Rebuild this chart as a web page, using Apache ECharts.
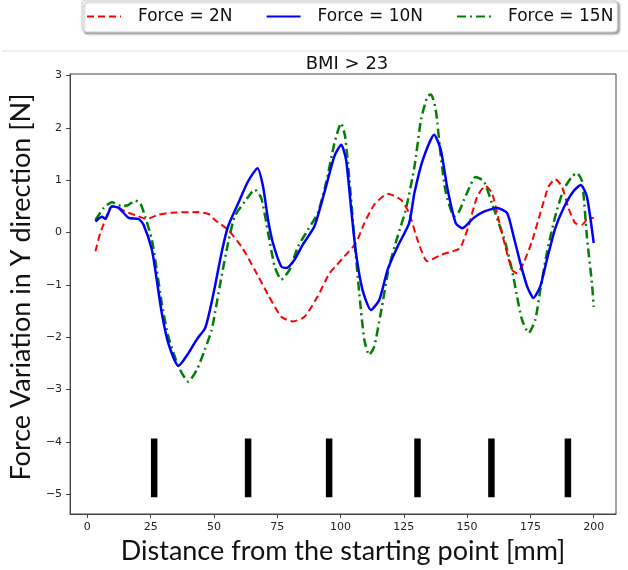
<!DOCTYPE html>
<html>
<head>
<meta charset="utf-8">
<script src="https://cdn.jsdelivr.net/npm/echarts@6/dist/echarts.min.js"></script>
<style>
  html, body { margin: 0; padding: 0; background: #fff; }
  #chart { width: 628px; height: 570px; }
</style>
</head>
<body>
<div id="chart"></div>
<script>
// readings from the picture: [distance mm, force N]
const force2N = [
  [3.2, -0.36], [5.1, -0.01], [7.1, 0.24], [9.0, 0.47], [11.0, 0.50], [15.0, 0.40],
  [20.2, 0.31], [23.5, 0.26], [28.1, 0.34], [33.3, 0.38], [43.8, 0.39], [48.0, 0.35],
  [50.4, 0.24], [55.6, 0.05], [60.9, -0.27], [66.1, -0.71], [71.4, -1.19], [76.6, -1.61],
  [81.2, -1.70], [85.8, -1.61], [91.0, -1.22], [95.6, -0.78], [98.5, -0.62], [101.5, -0.46],
  [106.1, -0.20], [109.4, 0.18], [113.3, 0.53], [118.6, 0.74], [123.8, 0.63], [127.1, 0.37],
  [130.4, -0.14], [134.3, -0.55], [139.6, -0.43], [144.1, -0.36], [147.2, -0.30], [150.4, 0.10],
  [154.0, 0.69], [157.2, 0.89], [159.8, 0.76], [162.5, 0.24], [165.1, -0.27], [167.7, -0.71],
  [169.7, -0.78], [172.3, -0.58], [175.6, -0.17], [178.9, 0.37], [182.2, 0.88], [184.8, 1.02],
  [187.4, 0.88], [190.0, 0.47], [192.7, 0.18], [195.4, 0.15], [198.0, 0.28], [200.0, 0.28]
];

const force10N = [
  [3.2, 0.21], [5.8, 0.30], [7.1, 0.26], [9.7, 0.50], [12.4, 0.47], [16.3, 0.28],
  [20.2, 0.26], [22.2, 0.15], [25.5, -0.33], [27.4, -0.90], [29.4, -1.54], [32.0, -2.12],
  [36.0, -2.55], [39.9, -2.31], [42.5, -2.10], [44.5, -1.96], [46.4, -1.84], [47.8, -1.61],
  [50.4, -1.03], [53.0, -0.39], [55.6, 0.12], [59.6, 0.56], [63.5, 0.98], [67.2, 1.23],
  [69.4, 0.88], [71.4, 0.24], [73.3, -0.20], [76.6, -0.65], [78.6, -0.68], [81.8, -0.52],
  [85.1, -0.23], [89.7, 0.12], [93.6, 0.76], [97.6, 1.46], [100.3, 1.68], [102.2, 1.39],
  [104.1, 0.50], [106.1, -0.39], [108.7, -1.10], [112.0, -1.48], [115.3, -1.29], [118.6, -0.71],
  [122.5, -0.27], [127.1, 0.18], [129.2, 0.76], [132.5, 1.39], [137.0, 1.87], [139.6, 1.58],
  [142.3, 0.82], [145.5, 0.18], [148.1, 0.08], [152.6, 0.28], [156.6, 0.40], [161.9, 0.47],
  [165.8, 0.37], [168.4, -0.08], [171.0, -0.58], [173.7, -1.03], [176.2, -1.25], [178.9, -1.03],
  [181.5, -0.52], [184.8, 0.08], [188.1, 0.47], [192.0, 0.79], [194.9, 0.91], [197.3, 0.69],
  [200.0, -0.20]
];

const force15N = [
  [3.2, 0.24], [6.5, 0.47], [9.7, 0.58], [13.7, 0.50], [16.3, 0.53], [18.9, 0.61],
  [20.9, 0.56], [22.8, 0.31], [25.5, -0.14], [27.4, -0.71], [29.4, -1.35], [32.0, -1.99],
  [36.0, -2.56], [39.9, -2.85], [43.2, -2.63], [46.4, -2.24], [49.1, -1.86], [50.4, -1.54],
  [53.0, -0.84], [55.6, -0.20], [58.2, 0.31], [62.2, 0.59], [66.1, 0.82], [68.7, 0.66],
  [71.4, -0.01], [74.0, -0.65], [76.6, -0.90], [79.9, -0.71], [83.2, -0.27], [87.1, 0.05],
  [91.0, 0.37], [94.3, 0.95], [97.6, 1.71], [100.2, 2.09], [101.8, 1.84], [103.5, 1.01],
  [105.4, -0.08], [107.4, -1.16], [109.4, -2.05], [111.3, -2.34], [113.3, -2.18], [115.9, -1.54],
  [119.2, -0.65], [122.5, -0.08], [125.8, 0.44], [129.2, 1.26], [131.8, 2.16], [134.3, 2.60],
  [135.7, 2.64], [137.6, 2.35], [139.6, 1.46], [141.6, 0.76], [144.9, 0.31], [146.8, 0.40],
  [148.8, 0.63], [150.0, 0.76], [153.3, 1.06], [156.6, 0.98], [159.8, 0.56], [162.5, 0.18],
  [165.1, -0.20], [167.7, -0.71], [169.7, -1.22], [171.7, -1.67], [174.3, -1.92], [176.9, -1.67],
  [178.9, -1.10], [181.5, -0.39], [184.8, 0.31], [188.1, 0.82], [191.3, 1.06], [193.3, 1.14],
  [195.4, 0.98], [197.3, -0.08], [199.3, -0.97], [200.0, -1.42]
];

// black vertical markers
const markerX = [26.4, 63.5, 95.5, 130.4, 159.6, 189.8];
const markerTop = -4;
const markerBottom = -5;

const xTicks = [0, 25, 50, 75, 100, 125, 150, 175, 200];
const yTicks = [-5, -4, -3, -2, -1, 0, 1, 2, 3];

const tickFont = { fontFamily: 'DejaVu Sans', fontSize: 11, color: '#222' };
const nameFont = { fontFamily: 'Lato', fontSize: 27, color: '#111' };

const chart = echarts.init(document.getElementById('chart'), null, { renderer: 'canvas' });

const markerSeries = markerX.map(x => ({
  type: 'line',
  name: 'marker',
  data: [[x, markerTop], [x, markerBottom]],
  symbol: 'none',
  silent: true,
  lineStyle: { color: '#000', width: 6.5, cap: 'square' },
  z: 1
}));

chart.setOption({
  animation: false,
  title: {
    text: 'BMI > 23',
    left: 342,
    textAlign: 'center',
    top: 50,
    textStyle: { fontFamily: 'DejaVu Sans', fontSize: 18, fontWeight: 'normal', color: '#111' }
  },
  legend: {
    data: ['Force = 2N', 'Force = 10N', 'Force = 15N'],
    left: 82,
    top: 0,
    padding: [8, 4, 7, 4],
    itemWidth: 34,
    itemHeight: 14,
    itemGap: 33,
    borderColor: '#ccc',
    borderWidth: 1,
    borderRadius: 4,
    backgroundColor: '#fff',
    shadowColor: 'rgba(0,0,0,0.35)',
    shadowBlur: 2,
    shadowOffsetX: 2,
    shadowOffsetY: 2,
    itemStyle: { color: 'transparent', borderWidth: 0 },
    textStyle: { fontFamily: 'DejaVu Sans', fontSize: 17, color: '#111', padding: [0, 0, 0, 12] }
  },
  graphic: [{
    type: 'line',
    shape: { x1: 2, y1: 51, x2: 628, y2: 51 },
    style: { stroke: '#ddd', lineWidth: 1 }
  }],
  grid: {
    left: 68, right: 12, top: 74, bottom: 56,
    show: true, borderColor: '#444', borderWidth: 1
  },
  xAxis: {
    type: 'value',
    min: -6.8,
    max: 208.8,
    name: 'Distance from the starting point [mm]',
    nameLocation: 'middle',
    nameGap: 21,
    nameTextStyle: nameFont,
    splitLine: { show: false },
    axisLine: { onZero: false, lineStyle: { color: '#444' } },
    axisTick: { length: 4, lineStyle: { color: '#444' }, customValues: xTicks },
    axisLabel: Object.assign({ customValues: xTicks, margin: 8 }, tickFont)
  },
  yAxis: {
    type: 'value',
    min: -5.38,
    max: 3.03,
    name: 'Force Variation in Y direction [N]',
    nameLocation: 'middle',
    nameGap: 22,
    nameTextStyle: Object.assign({ padding: [0, 0, 0, 14] }, nameFont),
    splitLine: { show: false },
    axisLine: { show: true, onZero: false, lineStyle: { color: '#444' } },
    axisTick: { show: true, length: 4, lineStyle: { color: '#444' }, customValues: yTicks },
    axisLabel: Object.assign({
      customValues: yTicks,
      margin: 8,
      formatter: v => String(v).replace('-', '\u2212')
    }, tickFont)
  },
  series: [
    {
      type: 'line',
      name: 'Force = 2N',
      data: force2N,
      symbol: 'none',
      smooth: 0.2,
      color: '#ff0000',
      lineStyle: { color: '#ff0000', width: 2, type: [7, 4] },
      z: 3
    },
    {
      type: 'line',
      name: 'Force = 10N',
      data: force10N,
      symbol: 'none',
      smooth: 0.2,
      color: '#0000ff',
      lineStyle: { color: '#0000ff', width: 2.5 },
      z: 4
    },
    {
      type: 'line',
      name: 'Force = 15N',
      data: force15N,
      symbol: 'none',
      smooth: 0.2,
      color: '#008000',
      lineStyle: { color: '#008000', width: 2.5, type: [9, 4, 2, 4] },
      z: 2
    }
  ].concat(markerSeries)
});
</script>
</body>
</html>
